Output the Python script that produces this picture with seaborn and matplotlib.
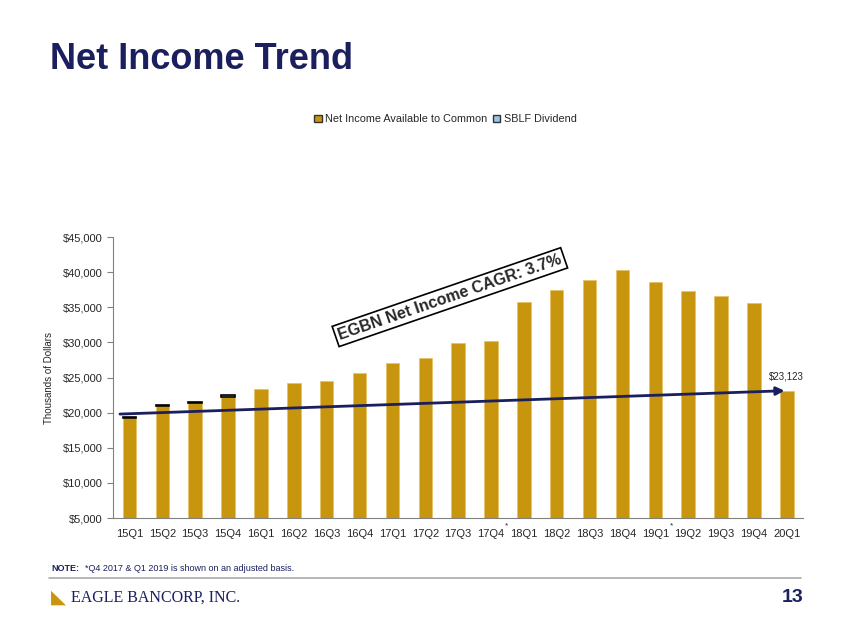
import numpy as np
import pandas as pd
import matplotlib.pyplot as plt
import seaborn as sns
from matplotlib.patches import Patch

# Data (thousands of dollars)
quarters = ["15Q1", "15Q2", "15Q3", "15Q4", "16Q1", "16Q2", "16Q3", "16Q4",
            "17Q1", "17Q2", "17Q3", "17Q4", "18Q1", "18Q2", "18Q3", "18Q4",
            "19Q1", "19Q2", "19Q3", "19Q4", "20Q1"]
net_income = [19250, 20900, 21330, 22260, 23390, 24190, 24520, 25700,
              27020, 27770, 29890, 30130, 35720, 37410, 38920, 40340,
              38550, 37280, 36570, 35540, 23123]
sblf_dividend = [180, 180, 180, 200, 0, 0, 0, 0, 0, 0, 0, 0,
                 0, 0, 0, 0, 0, 0, 0, 0, 0]
adjusted = ["17Q4", "19Q1"]
trend_start = 19800
trend_end = 23123

navy = "#1B1F5E"
gold = "#C8950F"
sblf_blue = "#9CC3E6"

sns.set_style("white")
plt.rcParams["font.family"] = ["Liberation Sans", "DejaVu Sans"]

df = pd.DataFrame({"quarter": quarters, "net_income": net_income})

fig = plt.figure(figsize=(8.5, 6.38), dpi=100)
ax = fig.add_axes([0.133, 0.188, 0.812, 0.4405])

sns.barplot(data=df, x="quarter", y="net_income", color=gold, width=0.41,
            saturation=1, edgecolor="#E8C060", linewidth=0.5, ax=ax)

# SBLF dividend stacked on top (tiny), only where there is one
pos = np.arange(len(quarters))
has_div = np.array(sblf_dividend) > 0
ax.bar(pos[has_div], np.array(sblf_dividend)[has_div],
       bottom=np.array(net_income)[has_div], width=0.41, color=sblf_blue,
       edgecolor="black", linewidth=1.2)

ax.set_ylim(5000, 45000)
ax.set_xlim(-0.5, len(quarters) - 0.5)
ax.set_yticks(range(5000, 45001, 5000))
ax.set_yticklabels([f"${v:,.0f}" for v in range(5000, 45001, 5000)], fontsize=8)
ax.set_xticks(pos)
ax.set_xticklabels(quarters, fontsize=8)
ax.set_xticks(np.arange(-0.5, len(quarters)), minor=True)
ax.tick_params(axis="x", which="major", length=0, pad=8)
ax.tick_params(axis="x", which="minor", length=4, color="#808080", direction="out")
ax.tick_params(axis="y", length=4, color="#808080", direction="out", left=True)
ax.set_xlabel("")
ax.set_ylabel("Thousands of Dollars", fontsize=7, labelpad=6)
for s in ["top", "right"]:
    ax.spines[s].set_visible(False)
for s in ["left", "bottom"]:
    ax.spines[s].set_color("#808080")

# asterisks on adjusted quarters
for q in adjusted:
    i = quarters.index(q)
    ax.text(i + 0.43, -0.028, "*", transform=ax.get_xaxis_transform(),
            fontsize=6, ha="left", va="center")

# Trend arrow
ax.annotate("", xy=(len(quarters) - 1.07, trend_end), xytext=(-0.29, trend_start),
            arrowprops=dict(arrowstyle="-|>", color=navy, lw=2, mutation_scale=12,
                            shrinkA=0, shrinkB=0))
ax.text(len(quarters) - 1, trend_end + 1300, f"${trend_end:,}", fontsize=7,
        ha="center", va="bottom")

ax.text(0.488, 0.786, "EGBN Net Income CAGR: 3.7%", transform=ax.transAxes,
        fontsize=11.5, fontweight="bold", rotation=19, ha="center", va="center",
        bbox=dict(boxstyle="square,pad=0.2", facecolor="white", edgecolor="black", lw=1.2))

handles = [Patch(facecolor=gold, edgecolor="#333333", label="Net Income Available to Common"),
           Patch(facecolor=sblf_blue, edgecolor="#333333", label="SBLF Dividend")]
fig.legend(handles=handles, loc="center", bbox_to_anchor=(0.524, 0.813), ncol=2,
           frameon=False, fontsize=7.8, handlelength=0.7, handleheight=0.7,
           handletextpad=0.3, columnspacing=0.5)

fig.text(0.059, 0.907, "Net Income Trend", fontsize=26, fontweight="bold",
         color=navy, ha="left", va="center")
fig.text(0.061, 0.109, "NOTE:", fontsize=6.5, fontweight="bold", color=navy,
         ha="left", va="center")
fig.text(0.100, 0.109, "*Q4 2017 & Q1 2019 is shown on an adjusted basis.",
         fontsize=6.5, color=navy, ha="left", va="center")
fig.add_artist(plt.Line2D([0.058, 0.942], [0.094, 0.094], color="#AAAAAA", lw=1.2))
fig.text(0.060, 0.063, "\u25E3", fontsize=14, color=gold, ha="left", va="center")
fig.text(0.083, 0.063, "EAGLE BANCORP, INC.", fontsize=11.5, color=navy,
         family=["Liberation Serif", "DejaVu Serif"], ha="left", va="center")
fig.text(0.945, 0.063, "13", fontsize=14, fontweight="bold", color=navy,
         ha="right", va="center")

fig.savefig("out.png", dpi=100)
